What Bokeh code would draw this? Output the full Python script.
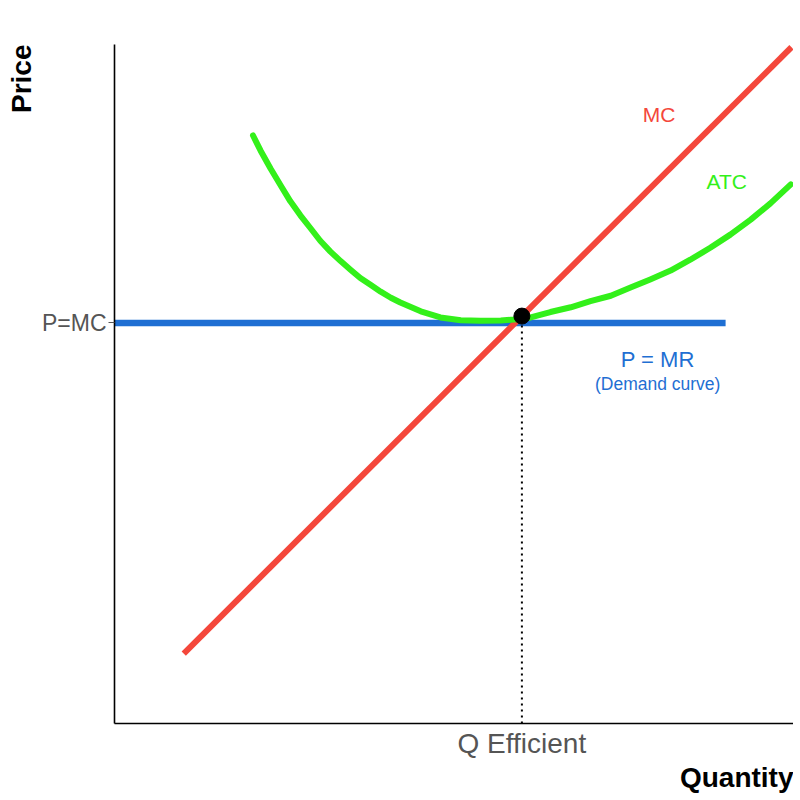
from bokeh.plotting import figure
from bokeh.models import Range1d, FixedTicker, Label, Title
from bokeh.embed import file_html
from bokeh.resources import INLINE

# ---- data (axes scaled 0-100) ----
mc_q = [10.2, 99.7]
mc_p = [10.3, 99.6]

atc_q = [20.4, 21.5, 23.0, 24.5, 25.9, 27.4, 28.9, 30.3, 31.8, 33.3, 34.8, 36.2,
         37.7, 39.2, 40.7, 42.1, 45.1, 48.0, 51.0, 53.9, 56.9, 58.8, 61.3, 64.2,
         67.2, 70.1, 73.1, 76.0, 78.9, 81.9, 84.8, 87.8, 90.7, 93.7, 96.6, 99.6]
atc_c = [86.6, 84.4, 81.7, 79.2, 76.9, 74.8, 72.9, 71.1, 69.5, 68.1, 66.8, 65.6,
         64.6, 63.6, 62.7, 62.0, 60.7, 59.8, 59.4, 59.3, 59.35, 59.5, 59.8, 60.6,
         61.3, 62.2, 63.0, 64.2, 65.4, 66.7, 68.3, 70.1, 72.0, 74.2, 76.6, 79.4]

mr_q = [0.0, 90.0]
mr_p = [59.0, 59.0]

eq_q = [60.0]
eq_p = [60.0]

price_tick = 59
qty_tick = 60
price_tick_label = "P=MC"
qty_tick_label = "Q Efficient"

RED = "#f4473b"
GREEN = "#33f01a"
BLUE = "#1f6fd3"
GREY = "#555555"
FONT = "Liberation Sans"

p = figure(width=793, height=795, output_backend="svg", toolbar_location=None,
           x_range=Range1d(0, 100), y_range=Range1d(0, 100),
           min_border_left=114, min_border_right=0, min_border_top=44, min_border_bottom=72)
p.outline_line_color = None
p.grid.visible = False
p.background_fill_color = "white"
p.border_fill_color = "white"

# axes
for ax in (p.xaxis[0], p.yaxis[0]):
    ax.axis_line_color = "black"
    ax.axis_line_width = 1.6
    ax.minor_tick_line_color = None
    ax.major_label_text_color = GREY
    ax.major_label_text_font = FONT
    ax.major_label_text_font_style = "normal"
    ax.axis_label_standoff = 0

p.xaxis.ticker = FixedTicker(ticks=[qty_tick])
p.xaxis.major_label_overrides = {qty_tick: qty_tick_label}
p.xaxis.major_tick_out = 0
p.xaxis.major_tick_in = 0
p.xaxis.major_label_text_font_size = "28px"
p.xaxis.major_label_standoff = 4

p.yaxis.ticker = FixedTicker(ticks=[price_tick])
p.yaxis.major_label_overrides = {price_tick: price_tick_label}
p.yaxis.major_tick_out = 6
p.yaxis.major_tick_in = 0
p.yaxis.major_tick_line_color = GREY
p.yaxis.major_label_text_font_size = "23px"
p.yaxis.major_label_standoff = 2

# axis titles
p.add_layout(Title(text="Price", align="right", text_font=FONT, text_font_size="28px",
                   text_font_style="bold", text_color="black", standoff=4), "left")
p.add_layout(Title(text="Quantity", align="right", text_font=FONT, text_font_size="28px",
                   text_font_style="bold", text_color="black", standoff=-3), "below")

# curves
p.line(mr_q, mr_p, line_color=BLUE, line_width=6.5)
p.line(mc_q, mc_p, line_color=RED, line_width=6)
p.line(atc_q, atc_c, line_color=GREEN, line_width=6, line_join="round", line_cap="round")
p.segment(x0=[eq_q[0]], y0=[0], x1=[eq_q[0]], y1=[mr_p[0]], line_color="black",
          line_width=2, line_dash="2 4")
p.scatter(eq_q, eq_p, size=16, color="black")

# text labels
def lab(x, y, text, color, size, align="left"):
    p.add_layout(Label(x=x, y=y, text=text, text_color=color, text_font=FONT,
                       text_font_size=size, text_align=align, text_baseline="alphabetic"))

lab(77.8, 89.75, "MC", RED, "21px")
lab(87.2, 79.85, "ATC", GREEN, "21px")
lab(80.0, 53.6, "P = MR", BLUE, "22px", align="center")
lab(80.0, 50.0, "(Demand curve)", BLUE, "17.5px", align="center")

open("out.html", "w").write(file_html(p, INLINE))
